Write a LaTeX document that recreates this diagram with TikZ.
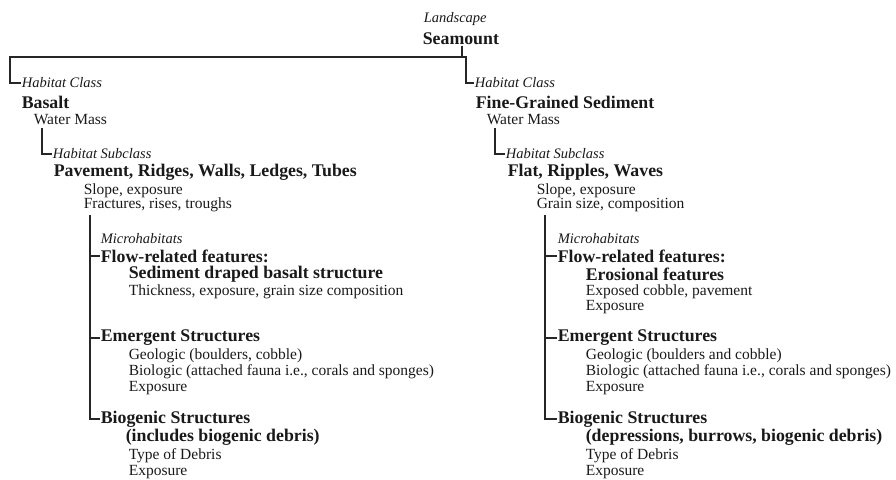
\documentclass[tikz,border=0pt]{standalone}
\usepackage{fontspec}
\setmainfont{Liberation Serif}
\begin{document}
\begin{tikzpicture}[x=1pt,y=-1pt,
  every node/.style={anchor=west,inner sep=0.6pt,text=black!90},
  lbl/.style={font=\fontsize{14.5}{16}\selectfont\itshape},
  hd/.style={font=\fontsize{17.8}{19}\selectfont\bfseries},
  tx/.style={font=\fontsize{15.5}{17}\selectfont},
  conn/.style={draw=black!85,line width=1.5pt}]
\useasboundingbox (0,0) rectangle (896,479);
% top
\node[lbl] (land) at (423,19) {Landscape};
\node[hd] (seam) at (422,39) {Seamount};
% left
\node[lbl] (hcL) at (21,83) {Habitat Class};
\node[hd] (basalt) at (21,102) {Basalt};
\node[tx] (wmL) at (33,120) {Water Mass};
\node[lbl] (hsL) at (52,154) {Habitat Subclass};
\node[hd] (pav) at (53,172) {Pavement, Ridges, Walls, Ledges, Tubes};
\node[tx] (slL) at (83,191) {Slope, exposure};
\node[tx] (frL) at (83,205) {Fractures, rises, troughs};
\node[lbl] (miL) at (100,239) {Microhabitats};
\node[hd] (flL) at (100,256) {Flow-related features:};
\node[hd] (sedL) at (128,274) {Sediment draped basalt structure};
\node[tx] (thL) at (128,291.5) {Thickness, exposure, grain size composition};
\node[hd] (emL) at (100,338) {Emergent Structures};
\node[tx] (geL) at (128,356) {Geologic (boulders, cobble)};
\node[tx] (biL) at (128,372) {Biologic (attached fauna i.e., corals and sponges)};
\node[tx] (exL) at (128,388) {Exposure};
\node[hd] (bgL) at (100,419) {Biogenic Structures};
\node[hd] (inL) at (125,437) {(includes biogenic debris)};
\node[tx] (tyL) at (128,456) {Type of Debris};
\node[tx] (ex2L) at (128,472) {Exposure};
% right
\node[lbl] (hcR) at (474,83) {Habitat Class};
\node[hd] (fgs) at (475,102) {Fine-Grained Sediment};
\node[tx] (wmR) at (486,120) {Water Mass};
\node[lbl] (hsR) at (505,154) {Habitat Subclass};
\node[hd] (flat) at (507,172) {Flat, Ripples, Waves};
\node[tx] (slR) at (536,191) {Slope, exposure};
\node[tx] (grR) at (536,205) {Grain size, composition};
\node[lbl] (miR) at (557,239) {Microhabitats};
\node[hd] (flR) at (557,256) {Flow-related features:};
\node[hd] (erR) at (585,274) {Erosional features};
\node[tx] (ecR) at (585,291.5) {Exposed cobble, pavement};
\node[tx] (exR) at (585,307) {Exposure};
\node[hd] (emR) at (557,338) {Emergent Structures};
\node[tx] (geR) at (585,356) {Geologic (boulders and cobble)};
\node[tx] (biR) at (585,372) {Biologic (attached fauna i.e., corals and sponges)};
\node[tx] (ex3R) at (585,388) {Exposure};
\node[hd] (bgR) at (557,419) {Biogenic Structures};
\node[hd] (deR) at (585,437) {(depressions, burrows, biogenic debris)};
\node[tx] (tyR) at (585,456) {Type of Debris};
\node[tx] (ex2R) at (585,472) {Exposure};
% connectors
\coordinate (barL) at (10,57);
\coordinate (barR) at (466,57);
\coordinate (sj) at (462,57);
\coordinate (vL1) at (42,128);
\coordinate (vR1) at (495,128);
\coordinate (vL2) at (90,215);
\coordinate (vR2) at (545,215);
\draw[conn] (sj |- seam.south) -- (sj);
\draw[conn] (hcL.west) -| (barL) -- (barR) |- (hcR.west);
\draw[conn] (vL1) |- (hsL.west);
\draw[conn] (vR1) |- (hsR.west);
\draw[conn] (vL2) |- (bgL.west);
\draw[conn] (vL2 |- flL.west) -- (flL.west);
\draw[conn] (vL2 |- emL.west) -- (emL.west);
\draw[conn] (vR2) |- (bgR.west);
\draw[conn] (vR2 |- flR.west) -- (flR.west);
\draw[conn] (vR2 |- emR.west) -- (emR.west);
\end{tikzpicture}
\end{document}
